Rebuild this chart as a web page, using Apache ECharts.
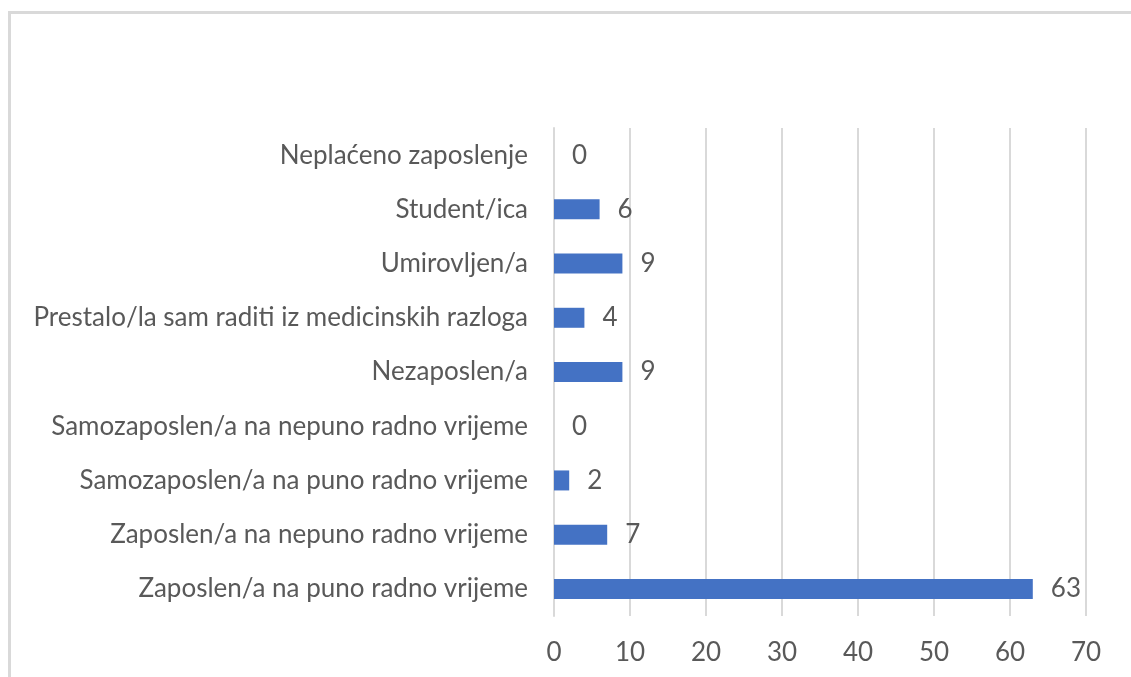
<!DOCTYPE html>
<html>
<head>
  <meta charset="utf-8">
  <title>Radni status</title>
  <script src="https://cdn.jsdelivr.net/npm/echarts/dist/echarts.min.js"></script>
  <style>
    html, body {
      margin: 0;
      padding: 0;
      background: #fff;
    }
    #frame {
      position: absolute;
      left: 8px;
      top: 11px;
      width: 1200px;
      height: 800px;
      border-top: 3px solid #d9d9d9;
      border-left: 3px solid #d9d9d9;
    }
    #main {
      position: absolute;
      left: 0;
      top: 0;
      width: 1131px;
      height: 677px;
    }
  </style>
</head>
<body>

<div id="frame"></div>
<div id="main"></div>

<script>
  // bottom to top, same order as the category axis
  const categories = [
    'Zaposlen/a na puno radno vrijeme',
    'Zaposlen/a na nepuno radno vrijeme',
    'Samozaposlen/a na puno radno vrijeme',
    'Samozaposlen/a na nepuno radno vrijeme',
    'Nezaposlen/a',
    'Prestalo/la sam raditi iz medicinskih razloga',
    'Umirovljen/a',
    'Student/ica',
    'Neplaćeno zaposlenje'
  ];

  const values = [63, 7, 2, 0, 9, 4, 9, 6, 0];

  const textColor = '#595959';
  const font = 'Lato';

  var myChart = echarts.init(document.getElementById('main'));

  var option = {
    animation: false,
    grid: {
      left: 554,
      right: 45,
      top: 128,
      bottom: 61
    },
    xAxis: {
      type: 'value',
      min: 0,
      max: 70,
      interval: 10,
      axisLine: { show: false },
      axisTick: { show: false },
      splitLine: {
        show: true,
        lineStyle: { color: '#d9d9d9', width: 2 }
      },
      axisLabel: {
        color: textColor,
        fontFamily: font,
        fontSize: 26,
        margin: 24
      }
    },
    yAxis: {
      type: 'category',
      data: categories,
      axisLine: {
        show: true,
        lineStyle: { color: '#d9d9d9', width: 2 }
      },
      axisTick: { show: false },
      axisLabel: {
        color: textColor,
        fontFamily: font,
        fontSize: 26,
        margin: 26
      }
    },
    series: [
      {
        type: 'bar',
        data: values,
        barWidth: 20,
        itemStyle: { color: '#4472C4' },
        label: {
          show: true,
          position: 'right',
          distance: 18,
          color: textColor,
          fontFamily: font,
          fontSize: 26
        }
      }
    ]
  };

  myChart.setOption(option);
</script>
</body>
</html>
